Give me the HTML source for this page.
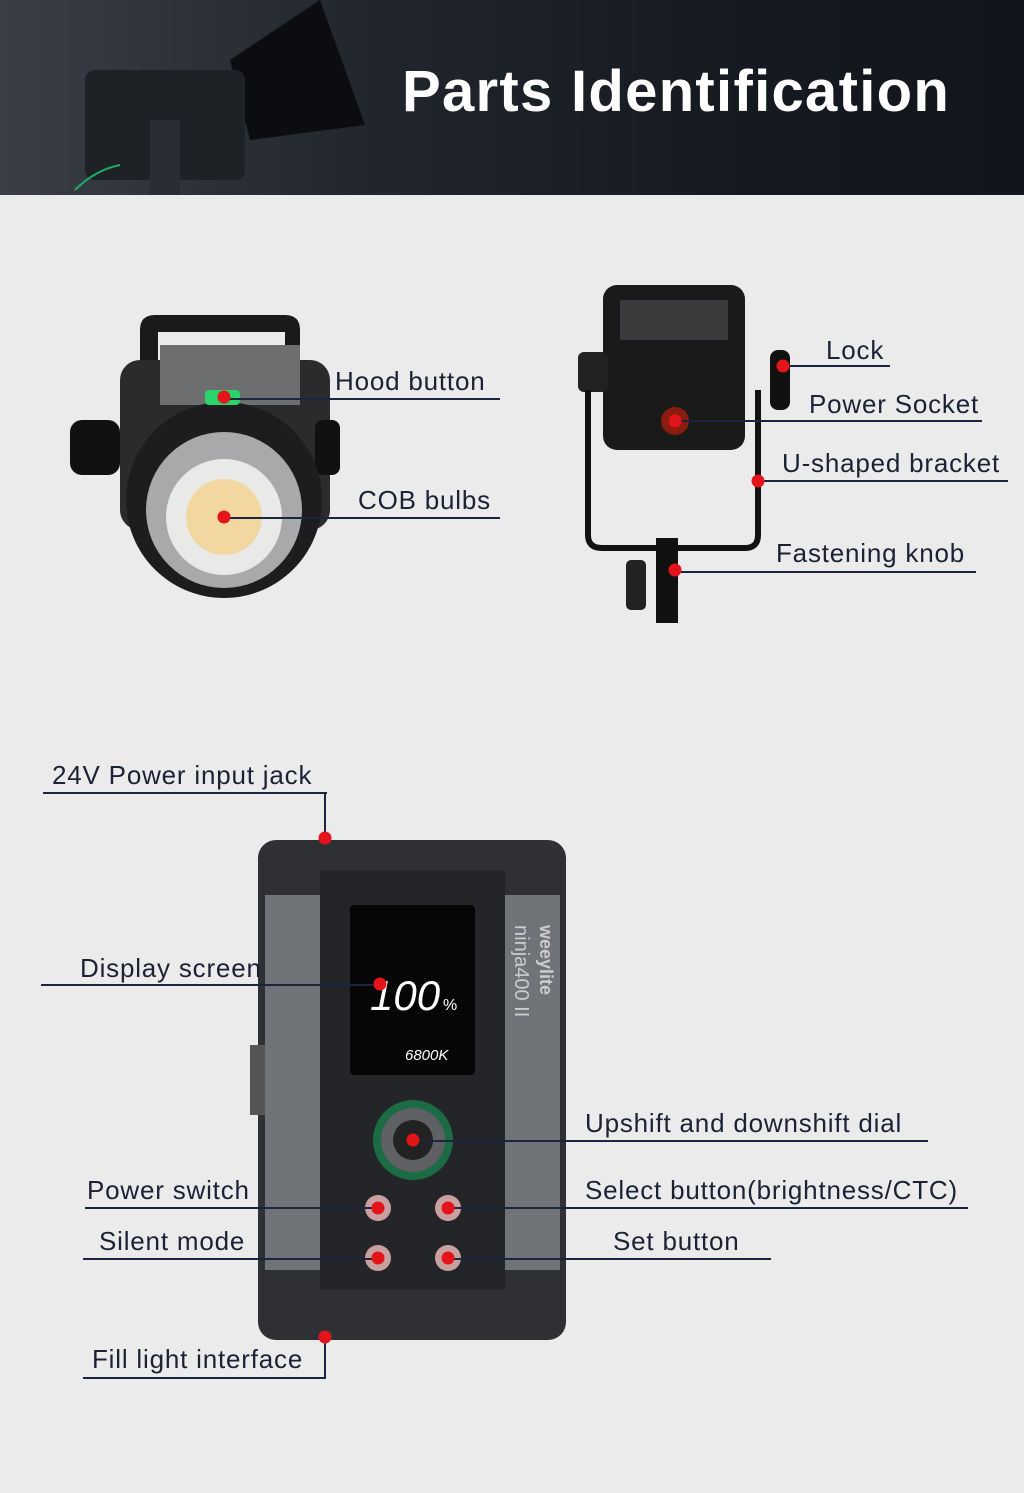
<!DOCTYPE html>
<html><head><meta charset="utf-8"><style>
*{margin:0;padding:0;box-sizing:border-box}
body{width:1024px;height:1493px;background:#ebebeb;position:relative;overflow:hidden;font-family:"Liberation Sans",sans-serif}
.hdr{position:absolute;left:0;top:0;width:1024px;height:195px;background:linear-gradient(90deg,#3a3f47 0%,#22262d 35%,#161a21 70%,#12151b 100%)}
.title{position:absolute;left:402px;top:58px;color:#fff;font-size:58px;font-weight:bold;letter-spacing:1.3px}
.t{position:absolute;font-size:26px;letter-spacing:0.8px;color:#1b2235;white-space:nowrap}
.h{position:absolute;height:2px;background:#1b2540}
.v{position:absolute;width:2px;background:#1b2540}
.d{position:absolute;width:13px;height:13px;border-radius:50%;background:#e4141b;transform:translate(-50%,-50%)}
</style></head><body>
<div class="hdr">
<svg width="400" height="195" style="position:absolute;left:0;top:0">
<polygon points="230,60 320,0 365,125 250,140" fill="#0c0d10"/>
<rect x="85" y="70" width="160" height="110" rx="10" fill="#1e2126"/>
<rect x="150" y="120" width="30" height="75" fill="#2a2d33"/>
<path d="M75 190 Q95 170 120 165" stroke="#2a6" stroke-width="2" fill="none"/>
</svg>
</div>
<div class="title">Parts Identification</div>

<svg width="1024" height="1493" style="position:absolute;left:0;top:0">
<path d="M140 330 Q140 315 155 315 H285 Q300 315 300 330 V370 H285 V332 H158 V370 H140Z" fill="#1a1a1a"/>
<rect x="120" y="360" width="210" height="170" rx="20" fill="#2b2b2d"/>
<rect x="160" y="345" width="140" height="60" fill="#6d6e70"/>
<rect x="70" y="420" width="50" height="55" rx="12" fill="#111"/>
<rect x="315" y="420" width="25" height="55" rx="8" fill="#111"/>
<circle cx="224" cy="500" r="98" fill="#1d1d1f"/>
<circle cx="224" cy="510" r="78" fill="#a8a9ab"/>
<circle cx="224" cy="517" r="58" fill="#e9e9e7"/>
<circle cx="224" cy="517" r="38" fill="#f2d8a0"/>
<rect x="205" y="390" width="35" height="15" rx="4" fill="#2bd46a"/>
<rect x="603" y="285" width="142" height="165" rx="14" fill="#1a1a1b"/>
<rect x="620" y="300" width="108" height="40" fill="#3a3a3c"/>
<rect x="578" y="352" width="30" height="40" rx="6" fill="#222"/>
<rect x="770" y="350" width="20" height="60" rx="8" fill="#111"/>
<path d="M588 390 V535 Q588 548 602 548 H745 Q758 548 758 535 V390" stroke="#111" stroke-width="6" fill="none"/>
<rect x="656" y="538" width="22" height="85" fill="#111"/>
<rect x="626" y="560" width="20" height="50" rx="5" fill="#222"/>
<circle cx="675" cy="421" r="14" fill="#8a1d10"/>
<rect x="258" y="840" width="308" height="500" rx="18" fill="#2f3034"/>
<rect x="265" y="895" width="55" height="375" fill="#707378"/>
<rect x="505" y="895" width="55" height="375" fill="#707378"/>
<rect x="320" y="870" width="185" height="420" fill="#242528"/>
<rect x="250" y="1045" width="15" height="70" fill="#555"/>
<rect x="350" y="905" width="125" height="170" rx="4" fill="#060606"/>
<text x="370" y="1010" fill="#fff" font-size="42" font-style="italic" font-family="Liberation Sans">100</text>
<text x="443" y="1010" fill="#fff" font-size="16">%</text>
<text x="405" y="1060" fill="#fff" font-size="15" font-style="italic">6800K</text>
<text x="540" y="925" fill="#ccc" font-size="18" font-weight="bold" transform="rotate(90 540 925)">weeylite</text>
<text x="515" y="925" fill="#ccc" font-size="20" transform="rotate(90 515 925)">ninja400 II</text>
<circle cx="413" cy="1140" r="40" fill="#1d6b45"/>
<circle cx="413" cy="1140" r="32" fill="#5e6064"/>
<circle cx="413" cy="1140" r="20" fill="#222"/>
<circle cx="378" cy="1208" r="13" fill="#c9a0a0"/>
<circle cx="448" cy="1208" r="13" fill="#c9a0a0"/>
<circle cx="378" cy="1258" r="13" fill="#c9a0a0"/>
<circle cx="448" cy="1258" r="13" fill="#c9a0a0"/>
</svg>

<div class="t" style="left:335px;top:366px">Hood button</div>
<div class="h" style="left:224px;top:398px;width:276px"></div><div class="d" style="left:224px;top:397px"></div>
<div class="t" style="left:358px;top:485px">COB bulbs</div>
<div class="h" style="left:224px;top:517px;width:276px"></div><div class="d" style="left:224px;top:517px"></div>

<div class="t" style="left:826px;top:335px">Lock</div>
<div class="h" style="left:783px;top:365px;width:107px"></div><div class="d" style="left:783px;top:366px"></div>
<div class="t" style="left:809px;top:389px">Power Socket</div>
<div class="h" style="left:675px;top:420px;width:307px"></div><div class="d" style="left:675px;top:421px"></div>
<div class="t" style="left:782px;top:448px">U-shaped bracket</div>
<div class="h" style="left:758px;top:480px;width:250px"></div><div class="d" style="left:758px;top:481px"></div>
<div class="t" style="left:776px;top:538px">Fastening knob</div>
<div class="h" style="left:675px;top:571px;width:301px"></div><div class="d" style="left:675px;top:570px"></div>

<div class="t" style="left:52px;top:760px">24V Power input jack</div>
<div class="h" style="left:43px;top:792px;width:284px"></div><div class="v" style="left:324px;top:792px;height:46px"></div><div class="d" style="left:325px;top:838px"></div>
<div class="t" style="left:80px;top:953px">Display screen</div>
<div class="h" style="left:41px;top:984px;width:339px"></div><div class="d" style="left:380px;top:984px"></div>
<div class="t" style="left:585px;top:1108px">Upshift and downshift dial</div>
<div class="h" style="left:413px;top:1140px;width:515px"></div><div class="d" style="left:413px;top:1140px"></div>
<div class="t" style="left:87px;top:1175px">Power switch</div>
<div class="h" style="left:85px;top:1207px;width:295px"></div><div class="d" style="left:378px;top:1208px"></div>
<div class="t" style="left:585px;top:1175px">Select button(brightness/CTC)</div>
<div class="h" style="left:448px;top:1207px;width:520px"></div><div class="d" style="left:448px;top:1208px"></div>
<div class="t" style="left:99px;top:1226px">Silent mode</div>
<div class="h" style="left:83px;top:1258px;width:295px"></div><div class="d" style="left:378px;top:1258px"></div>
<div class="t" style="left:613px;top:1226px">Set button</div>
<div class="h" style="left:448px;top:1258px;width:323px"></div><div class="d" style="left:448px;top:1258px"></div>
<div class="t" style="left:92px;top:1344px">Fill light interface</div>
<div class="v" style="left:324px;top:1337px;height:42px"></div><div class="h" style="left:83px;top:1377px;width:243px"></div><div class="d" style="left:325px;top:1337px"></div>
</body></html>
